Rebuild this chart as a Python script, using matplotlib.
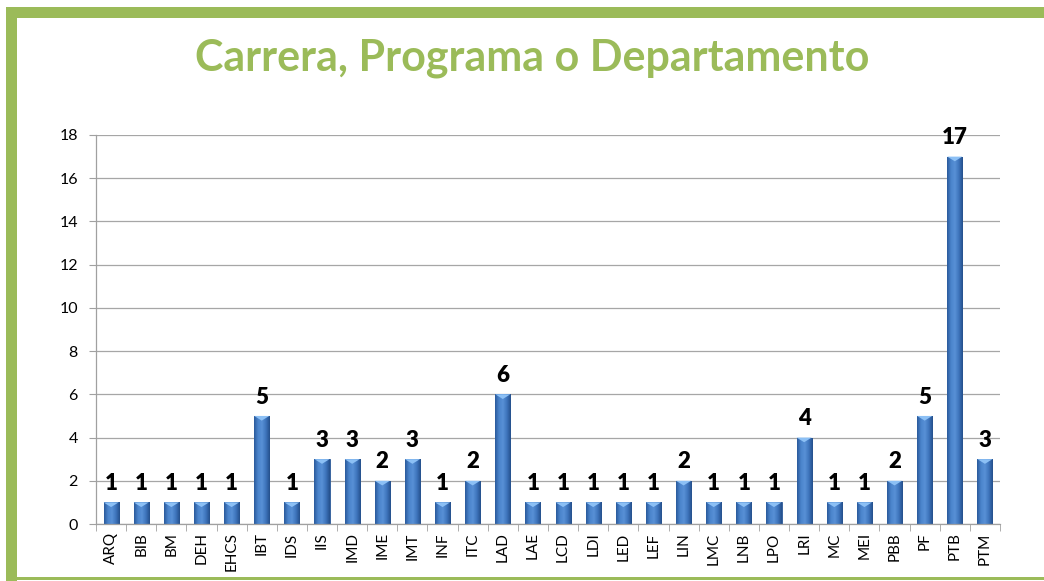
import numpy as np
import matplotlib
matplotlib.use('Agg')
import matplotlib.pyplot as plt
from matplotlib.patches import Rectangle, Polygon
from matplotlib.colors import LinearSegmentedColormap

plt.rcParams['font.family'] = ['Lato', 'DejaVu Sans']

categories = ['ARQ', 'BIB', 'BM', 'DEH', 'EHCS', 'IBT', 'IDS', 'IIS', 'IMD', 'IME',
              'IMT', 'INF', 'ITC', 'LAD', 'LAE', 'LCD', 'LDI', 'LED', 'LEF', 'LIN',
              'LMC', 'LNB', 'LPO', 'LRI', 'MC', 'MEI', 'PBB', 'PF', 'PTB', 'PTM']
values = [1, 1, 1, 1, 1, 5, 1, 3, 3, 2,
          3, 1, 2, 6, 1, 1, 1, 1, 1, 2,
          1, 1, 1, 4, 1, 1, 2, 5, 17, 3]
yticks = [0, 2, 4, 6, 8, 10, 12, 14, 16, 18]

green = '#9BBB59'
W, H = 1044, 581
fig = plt.figure(figsize=(W / 100, H / 100), dpi=100)

# green frame (left + top thick, bottom thin)
fig.patches.append(Rectangle((6 / W, 0), 11 / W, 1 - 7 / H, transform=fig.transFigure,
                             facecolor=green, edgecolor='none'))
fig.patches.append(Rectangle((6 / W, 1 - 18 / H), 1, 11 / H, transform=fig.transFigure,
                             facecolor=green, edgecolor='none'))
fig.patches.append(Rectangle((6 / W, 1 - 580 / H), 1, 3 / H, transform=fig.transFigure,
                             facecolor=green, edgecolor='none'))

fig.text(0.510, 0.900, 'Carrera, Programa o Departamento', ha='center', va='center',
         fontsize=31, fontweight='bold', color=green)

ax = fig.add_axes([96 / W, 1 - 524 / H, 904 / W, 389 / H])
x = np.arange(len(categories))
bars = ax.bar(x, values, width=0.5, color='#3E72B8', edgecolor='#2B5896', linewidth=0.6, zorder=2)

cmap = LinearSegmentedColormap.from_list('bar', ['#2A5A9C', '#4A84CC', '#5890D6', '#3E74BC', '#25508C'])
grad = np.linspace(0, 1, 64).reshape(1, -1)
for b, v in zip(bars, values):
    x0, w = b.get_x(), b.get_width()
    im = ax.imshow(grad, cmap=cmap, extent=(x0, x0 + w, 0, v), aspect='auto', zorder=2.5)
    im.set_clip_path(b)
    # light bevel on top of bar
    bev = 0.012 * 18
    ax.add_patch(Polygon([(x0, v), (x0 + w, v), (x0 + w * 0.5, v - bev)], closed=True,
                         facecolor='#8CC0F5', edgecolor='none', zorder=3))
    ax.annotate(str(v), (x0 + w / 2, v), xytext=(0, 6), textcoords='offset points',
                ha='center', va='bottom', fontsize=16, fontweight='heavy', color='black')

ax.set_xlim(-0.5, len(categories) - 0.5)
ax.set_ylim(0, 18)
ax.set_yticks(yticks)
ax.tick_params(axis='y', labelsize=11.5, length=5, color='#A0A0A0', pad=8)
ax.set_xticks(x)
ax.set_xticklabels(categories, rotation=90, fontsize=11)
ax.set_xticks(np.arange(len(categories) + 1) - 0.5, minor=True)
ax.tick_params(axis='x', which='major', length=0, pad=6)
ax.tick_params(axis='x', which='minor', length=5, color='#A0A0A0')
ax.grid(axis='y', color='#A6A6A6', linewidth=0.9, zorder=0)
ax.set_axisbelow(True)
for s in ['top', 'right']:
    ax.spines[s].set_visible(False)
for s in ['left', 'bottom']:
    ax.spines[s].set_color('#A0A0A0')
    ax.spines[s].set_linewidth(0.9)
ax.set_facecolor('white')

fig.savefig('out.png', dpi=100, facecolor='white')
